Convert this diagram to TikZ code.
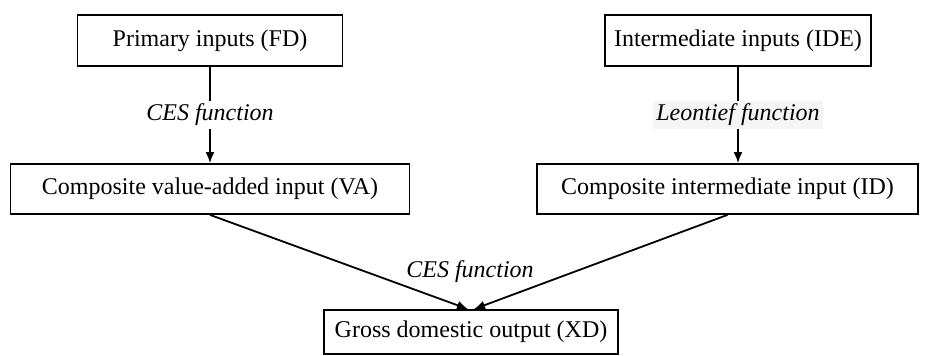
\documentclass[tikz,border=0pt]{standalone}
\usepackage{fontspec}
\setmainfont{Liberation Serif}
\usetikzlibrary{arrows.meta}
\begin{document}
\begin{tikzpicture}[x=0.5pt,y=-0.5pt,
  box/.style={draw,line width=0.9pt,inner sep=0pt,font=\fontsize{12}{14}\selectfont},
  conn/.style={line width=0.9pt,-{Latex[length=5.5pt,width=4.5pt]}},
  lab/.style={font=\fontsize{12}{14}\selectfont\itshape,inner sep=1.5pt}]
\useasboundingbox (0,0) rectangle (928,356);
\node[box,minimum width=265*0.5pt,minimum height=51*0.5pt] (fd) at (210,40.5) {Primary inputs (FD)};
\node[box,minimum width=266*0.5pt,minimum height=51*0.5pt] (ide) at (738,40.5) {Intermediate inputs (IDE)};
\node[box,minimum width=399*0.5pt,minimum height=50*0.5pt] (va) at (210,189) {Composite value-added input (VA)};
\node[box,minimum width=381*0.5pt,minimum height=50*0.5pt] (id) at (727.5,189) {Composite intermediate input (ID)};
\node[box,minimum width=294*0.5pt,minimum height=44*0.5pt] (xd) at (471,332) {Gross domestic output (XD)};
\draw[conn] (fd) -- node[lab,fill=white] (l1) {CES function} (va);
\draw[conn] (ide) -- node[lab,fill=black!4] (l2) {Leontief function} (ide|-id.north);
\draw[conn] (va.south) -- ([xshift=-1.5pt]xd.north);
\draw[conn] (id.south) -- ([xshift=1.5pt]xd.north);
\node[lab] (l3) at (470,272) {CES function};
\end{tikzpicture}
\end{document}
